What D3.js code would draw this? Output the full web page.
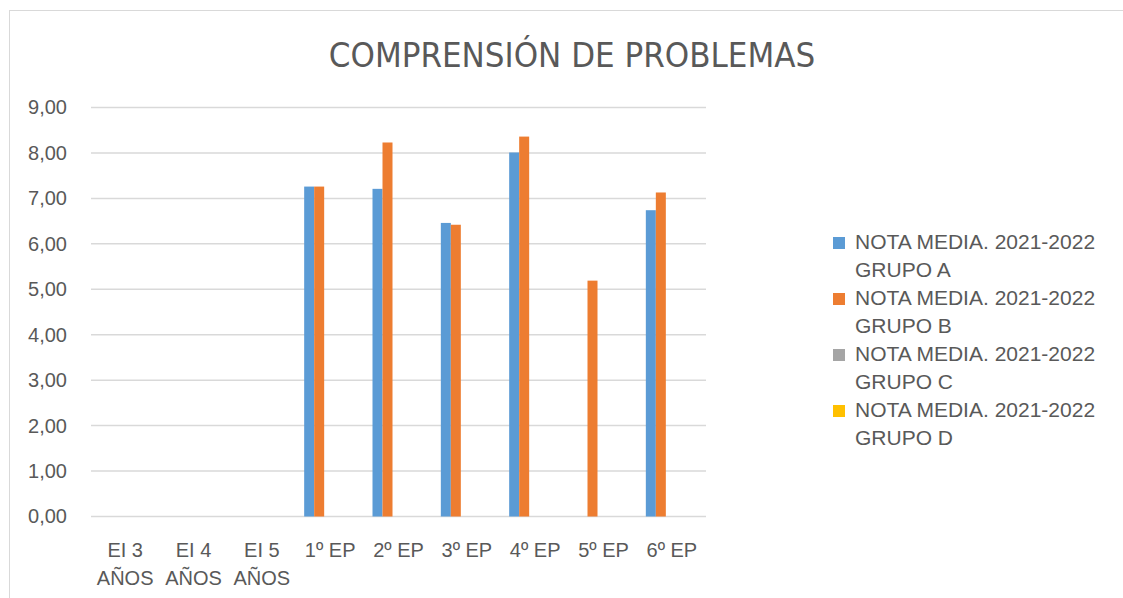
<!DOCTYPE html>
<html>
<head>
<meta charset="utf-8">
<script src="https://cdn.jsdelivr.net/npm/d3@7"></script>
<style>
  body { margin: 0; background: #fff; }
  text { font-family: "Liberation Sans", Arial, sans-serif; fill: #595959; }
</style>
</head>
<body>
<script>
var width = 1123,
    height = 598;

var categories = ["EI 3 AÑOS", "EI 4 AÑOS", "EI 5 AÑOS", "1º EP", "2º EP", "3º EP", "4º EP", "5º EP", "6º EP"];
var seriesNames = ["NOTA MEDIA. 2021-2022 GRUPO A", "NOTA MEDIA. 2021-2022 GRUPO B",
                   "NOTA MEDIA. 2021-2022 GRUPO C", "NOTA MEDIA. 2021-2022 GRUPO D"];
var grupoA = [null, null, null, 7.26, 7.21, 6.46, 8.01, null, 6.74];
var grupoB = [null, null, null, 7.26, 8.23, 6.42, 8.36, 5.19, 7.13];
var grupoC = [null, null, null, null, null, null, null, null, null];
var grupoD = [null, null, null, null, null, null, null, null, null];
var yTicks = [0, 1, 2, 3, 4, 5, 6, 7, 8, 9];
var colors = ["#5B9BD5", "#ED7D31", "#A5A5A5", "#FFC000"];

var seriesValues = [grupoA, grupoB, grupoC, grupoD];

var svg = d3.select("body").append("svg")
    .attr("width", width)
    .attr("height", height);

// chart frame
svg.append("rect")
    .attr("x", 9.5).attr("y", 10.5)
    .attr("width", width + 20).attr("height", height + 20)
    .attr("fill", "#fff")
    .attr("stroke", "#D9D9D9");

svg.append("text")
    .attr("x", 572).attr("y", 67)
    .attr("text-anchor", "middle")
    .style("font-family", "'Liberation Sans Narrow', 'DejaVu Sans Condensed', sans-serif")
    .style("font-size", "34.5px")
    .text("COMPRENSIÓN DE PROBLEMAS");

var x = d3.scaleBand()
    .domain(categories)
    .range([91, 706]);

var sub = d3.scaleBand()
    .domain(d3.range(seriesNames.length))
    .range([0, 40]);

var y = d3.scaleLinear()
    .domain([0, 9])
    .range([516.5, 107.5]);

// gridlines
svg.append("g")
    .selectAll("line")
    .data(yTicks)
    .enter().append("line")
    .attr("x1", 91).attr("x2", 706)
    .attr("y1", function(d) { return y(d); })
    .attr("y2", function(d) { return y(d); })
    .attr("stroke", "#D9D9D9")
    .attr("stroke-width", 1.5);

// y labels
var yAxis = svg.append("g")
    .attr("transform", "translate(91,0)")
    .call(d3.axisLeft(y).tickValues(yTicks).tickSize(0).tickPadding(24)
        .tickFormat(function(d) { return d3.format(".2f")(d).replace(".", ","); }));
yAxis.select(".domain").remove();
yAxis.selectAll("text")
    .style("font-size", "20px")
    .style("font-family", "'Liberation Sans', Arial, sans-serif")
    .attr("fill", "#595959");

// bars
seriesValues.forEach(function(vals, i) {
    svg.append("g")
        .selectAll("rect")
        .data(vals.map(function(v, j) { return { cat: categories[j], v: v }; })
            .filter(function(d) { return d.v != null; }))
        .enter().append("rect")
        .attr("x", function(d) { return x(d.cat) + x.bandwidth() / 2 - 26 + sub(i); })
        .attr("width", sub.bandwidth())
        .attr("y", function(d) { return y(d.v); })
        .attr("height", function(d) { return y(0) - y(d.v); })
        .attr("fill", colors[i]);
});

// x labels
var xAxis = svg.append("g")
    .attr("transform", "translate(0," + y(0) + ")")
    .call(d3.axisBottom(x).tickSize(0).tickPadding(0));
xAxis.select(".domain").remove();
xAxis.selectAll("text").each(function(d) {
    var t = d3.select(this);
    var lines = d.indexOf("AÑOS") >= 0 ? [d.replace(" AÑOS", ""), "AÑOS"] : [d];
    t.text(null)
        .attr("y", 0).attr("dy", null)
        .style("font-size", "20px")
        .style("font-family", "'Liberation Sans', Arial, sans-serif")
        .attr("fill", "#595959");
    lines.forEach(function(l, k) {
        t.append("tspan")
            .attr("x", 0)
            .attr("y", 40 + k * 28)
            .text(l);
    });
});

// legend
var legend = svg.append("g")
    .selectAll("g")
    .data(seriesNames)
    .enter().append("g")
    .attr("transform", function(d, i) { return "translate(833," + (237 + i * 56) + ")"; });

legend.append("rect")
    .attr("width", 12).attr("height", 12)
    .attr("fill", function(d, i) { return colors[i]; });

legend.append("text")
    .attr("x", 22).attr("y", 12)
    .style("font-size", "21px")
    .text(function(d) { return d.replace(/ GRUPO.*/, ""); });

legend.append("text")
    .attr("x", 22).attr("y", 40)
    .style("font-size", "21px")
    .text(function(d) { return d.replace(/.* (GRUPO .*)/, "$1"); });
</script>
</body>
</html>
